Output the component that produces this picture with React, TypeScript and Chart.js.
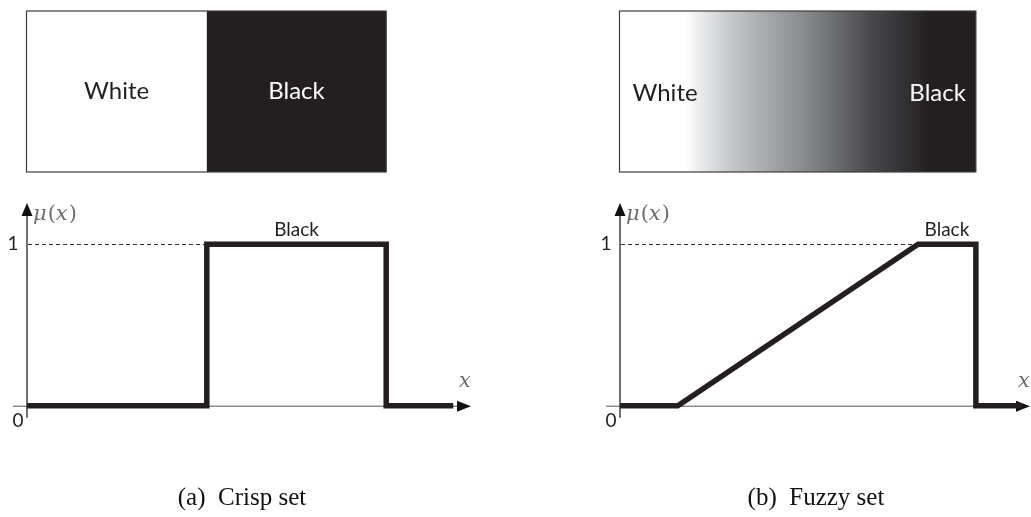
import React, { useEffect, useRef } from "react";
import { Chart, registerables } from "chart.js";

Chart.register(...registerables);

// ---- data ----
const crispX = [0, 4.05, 4.05, 8.09, 8.09, 9.6];
const crispY = [0, 0, 1, 1, 0, 0];
const fuzzyX = [0, 1.41, 7.27, 8.68, 8.68, 9.8];
const fuzzyY = [0, 0, 1, 1, 0, 0];
const yTickLabels = ["0", "1"];
const boxLabels = ["White", "Black"];
const peakLabel = "Black";
// y-axis label "μ(x)" split into italic / upright pieces
const yAxisLabelParts: [string, boolean][] = [
  ["\u03bc", true],
  ["(", false],
  ["x", true],
  [")", false],
];
const xAxisLabel = "x";
const captions = ["(a)  Crisp set", "(b)  Fuzzy set"];

const INK = "#231f20";
const SANS = "Lato, 'Open Sans', sans-serif";
const MATH = "'DejaVu Serif', 'Liberation Serif', serif";

type PanelCfg = {
  kind: "crisp" | "fuzzy";
  xs: number[];
  ys: number[];
  caption: string;
  captionX: number;
  left: number;
  width: number;
  padLeft: number;
  padRight: number;
};

function makePlugin(cfg: PanelCfg) {
  return {
    id: "figure-" + cfg.kind,
    beforeDatasetsDraw(chart: any) {
      const ctx: CanvasRenderingContext2D = chart.ctx;
      const sx = chart.scales.x;
      const sy = chart.scales.y;
      const X = (v: number) => sx.getPixelForValue(v);
      const Y = (v: number) => sy.getPixelForValue(v);
      const x0 = X(0);
      const y0 = Y(0);
      const y1 = Y(1);
      const xTip = sx.right;
      const yTip = sy.top;
      const i1 = cfg.ys.indexOf(1);
      const i2 = cfg.ys.lastIndexOf(1);
      const topStart = X(cfg.xs[i1]);
      const topEnd = X(cfg.xs[i2]);

      ctx.save();
      // ---- box on top ----
      const bTop = 11;
      const bBot = 172;
      const bL = x0 - 0.5;
      const bR = topEnd;
      if (cfg.kind === "crisp") {
        ctx.fillStyle = "#ffffff";
        ctx.fillRect(bL, bTop, topStart - bL, bBot - bTop);
        ctx.fillStyle = INK;
        ctx.fillRect(topStart, bTop, bR - topStart, bBot - bTop);
      } else {
        const gs = X(cfg.xs[1]);
        const ge = topStart + 12;
        const g = ctx.createLinearGradient(gs, 0, ge, 0);
        g.addColorStop(0, "#ffffff");
        g.addColorStop(0.03, "#ffffff");
        g.addColorStop(0.1, "#e6e7e8");
        g.addColorStop(0.234, "#c0c1c3");
        g.addColorStop(0.365, "#a5a6a9");
        g.addColorStop(0.496, "#8a8b8e");
        g.addColorStop(0.63, "#6a6b6d");
        g.addColorStop(0.76, "#4a4a4c");
        g.addColorStop(0.89, "#333234");
        g.addColorStop(1, INK);
        ctx.fillStyle = g;
        ctx.fillRect(bL, bTop, bR - bL, bBot - bTop);
      }
      ctx.strokeStyle = "#3c3c3c";
      ctx.lineWidth = 1.2;
      ctx.strokeRect(bL, bTop, bR - bL, bBot - bTop);

      ctx.font = "24px " + SANS;
      ctx.textBaseline = "middle";
      if (cfg.kind === "crisp") {
        ctx.textAlign = "center";
        ctx.fillStyle = INK;
        ctx.fillText(boxLabels[0], (bL + topStart) / 2, 91);
        ctx.fillStyle = "#ffffff";
        ctx.fillText(boxLabels[1], (topStart + bR) / 2, 91);
      } else {
        ctx.textAlign = "left";
        ctx.fillStyle = INK;
        ctx.fillText(boxLabels[0], bL + 13, 93);
        ctx.textAlign = "right";
        ctx.fillStyle = "#ffffff";
        ctx.fillText(boxLabels[1], bR - 10, 93);
      }

      // ---- axes ----
      ctx.strokeStyle = "#555555";
      ctx.lineWidth = 1;
      ctx.beginPath();
      ctx.moveTo(x0 - 14, y0 + 0.5);
      ctx.lineTo(xTip - 12, y0 + 0.5);
      ctx.stroke();
      ctx.fillStyle = "#111111";
      ctx.beginPath();
      ctx.moveTo(xTip, y0 + 0.5);
      ctx.lineTo(xTip - 14, y0 - 5);
      ctx.lineTo(xTip - 14, y0 + 6);
      ctx.closePath();
      ctx.fill();

      ctx.strokeStyle = "#222222";
      ctx.lineWidth = 1.3;
      ctx.beginPath();
      ctx.moveTo(x0, y0 + 12);
      ctx.lineTo(x0, yTip + 10);
      ctx.stroke();
      ctx.beginPath();
      ctx.moveTo(x0, yTip - 1);
      ctx.lineTo(x0 - 5.5, yTip + 12);
      ctx.lineTo(x0 + 5.5, yTip + 12);
      ctx.closePath();
      ctx.fill();

      // dashed level line at 1
      ctx.strokeStyle = "#333333";
      ctx.lineWidth = 1;
      ctx.setLineDash([4, 3]);
      ctx.beginPath();
      ctx.moveTo(x0 + 1, Math.round(y1) + 0.5);
      ctx.lineTo(topStart, Math.round(y1) + 0.5);
      ctx.stroke();
      ctx.setLineDash([]);

      // tick labels
      ctx.fillStyle = INK;
      ctx.font = "19px " + SANS;
      ctx.textAlign = "center";
      ctx.textBaseline = "middle";
      ctx.fillText(yTickLabels[1], x0 - 14, y1);
      ctx.fillText(yTickLabels[0], x0 - 9, y0 + 15);

      // axis labels
      ctx.fillStyle = "#6d6d6d";
      ctx.textAlign = "left";
      let lx = x0 + 6;
      for (const [t, it] of yAxisLabelParts) {
        ctx.font = (it ? "italic " : "") + "21px " + MATH;
        ctx.fillText(t, lx, yTip + 11);
        lx += ctx.measureText(t).width + (it ? 1 : 0);
      }
      ctx.font = "italic 21px " + MATH;
      ctx.textAlign = "center";
      ctx.fillText(xAxisLabel, xTip - 6, y0 - 24);

      // peak label
      ctx.fillStyle = INK;
      ctx.font = "19px " + SANS;
      ctx.textAlign = "center";
      ctx.fillText(peakLabel, (topStart + topEnd) / 2, y1 - 14);

      // caption
      ctx.font = "25px 'Liberation Serif', 'Times New Roman', serif";
      ctx.fillStyle = "#111111";
      ctx.fillText(cfg.caption, cfg.captionX, 498);
      ctx.restore();
    },
  };
}

function Panel({ cfg }: { cfg: PanelCfg }) {
  const ref = useRef<HTMLCanvasElement>(null);
  useEffect(() => {
    if (!ref.current) return;
    const chart = new Chart(ref.current, {
      type: "line",
      data: {
        datasets: [
          {
            data: cfg.xs.map((x, i) => ({ x, y: cfg.ys[i] })),
            borderColor: INK,
            borderWidth: 5.5,
            pointRadius: 0,
            tension: 0,
            fill: false,
            borderJoinStyle: "miter",
            borderCapStyle: "butt",
            clip: false,
          } as any,
        ],
      },
      options: {
        responsive: false,
        animation: false,
        devicePixelRatio: 1,
        layout: {
          padding: { left: cfg.padLeft, right: cfg.padRight, top: 204, bottom: 111.3 },
        },
        scales: {
          x: { type: "linear", min: 0, max: 10, display: false },
          y: { type: "linear", min: 0, max: 1.25, display: false },
        },
        plugins: { legend: { display: false }, tooltip: { enabled: false }, title: { display: false } },
        events: [],
      },
      plugins: [makePlugin(cfg)],
    });
    return () => chart.destroy();
  }, [cfg]);
  return (
    <div style={{ position: "absolute", left: cfg.left, top: 0, width: cfg.width, height: 517 }}>
      <canvas ref={ref} width={cfg.width} height={517} style={{ display: "block" }} />
    </div>
  );
}

const crispCfg: PanelCfg = {
  kind: "crisp",
  xs: crispX,
  ys: crispY,
  caption: captions[0],
  captionX: 242,
  left: 0,
  width: 515,
  padLeft: 27,
  padRight: 44,
};
const fuzzyCfg: PanelCfg = {
  kind: "fuzzy",
  xs: fuzzyX,
  ys: fuzzyY,
  caption: captions[1],
  captionX: 301,
  left: 515,
  width: 516,
  padLeft: 105,
  padRight: 1,
};

export default function App() {
  return (
    <div style={{ position: "absolute", left: 0, top: 0, width: 1031, height: 517, background: "#fff", overflow: "hidden" }}>
      <Panel cfg={crispCfg} />
      <Panel cfg={fuzzyCfg} />
    </div>
  );
}
